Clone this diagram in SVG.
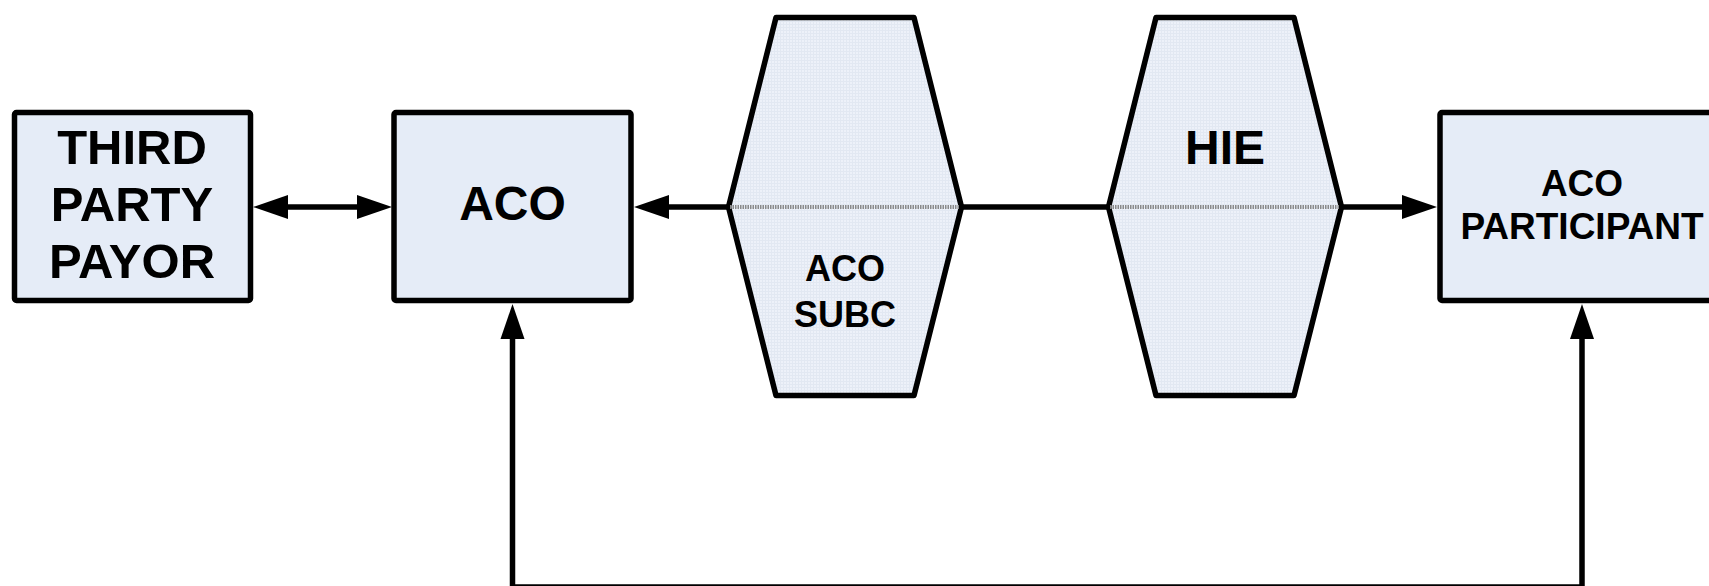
<svg xmlns="http://www.w3.org/2000/svg" width="1709" height="586" viewBox="0 0 1709 586">
  <style>
    .box { fill: #E5ECF7; stroke: #000; stroke-width: 5.5; stroke-linejoin: round; }
    .hex { fill: url(#grid); stroke: #000; stroke-width: 5.5; stroke-linejoin: round; }
    .mid { stroke: #8A8A8A; stroke-width: 4; stroke-dasharray: 1.5 1; fill: none; }
    .conn { stroke: #000; stroke-width: 5.5; fill: none; stroke-linejoin: miter; }
    .lbl { font-family: "Liberation Sans", Arial, sans-serif; font-weight: bold; fill: #000; text-anchor: middle; }
  </style>
  <defs>
    <pattern id="grid" patternUnits="userSpaceOnUse" width="3" height="3">
      <rect width="3" height="3" fill="#EDF1F9"/>
      <path d="M0 0.5H3M0.5 0V3" stroke="#E2E8F2" stroke-width="1"/>
    </pattern>
    <marker id="arr" markerUnits="userSpaceOnUse" markerWidth="36" markerHeight="24" refX="0" refY="12" orient="auto-start-reverse" overflow="visible">
      <path d="M0,0 L35,12 L0,24 Z" fill="#000"/>
    </marker>
  </defs>

  <g id="connectors">
    <path class="conn" d="M288,207 H357" marker-start="url(#arr)" marker-end="url(#arr)"/>
    <path class="conn" d="M728.5,207 H669" marker-end="url(#arr)"/>
    <path class="conn" d="M961.5,207 H1108.5"/>
    <path class="conn" d="M1341.5,207 H1402" marker-end="url(#arr)"/>
    <path class="conn" d="M512.5,339 V587 H1582 V339" marker-start="url(#arr)" marker-end="url(#arr)"/>
  </g>

  <g id="third-party-payor">
    <rect class="box" x="14.5" y="112.5" width="236" height="188" rx="2"/>
    <text class="lbl" font-size="49" x="132" y="164">THIRD</text>
    <text class="lbl" font-size="49" x="132" y="221">PARTY</text>
    <text class="lbl" font-size="49" x="132" y="278">PAYOR</text>
  </g>

  <g id="aco">
    <rect class="box" x="394" y="112.5" width="237" height="188" rx="2"/>
    <text class="lbl" font-size="48" x="512.5" y="220">ACO</text>
  </g>

  <g id="aco-subc">
    <polygon class="hex" points="728.5,207 776,17.5 914,17.5 961.5,207 914,395.5 776,395.5"/>
    <line class="mid" x1="730" y1="207" x2="960" y2="207"/>
    <text class="lbl" font-size="36" x="845" y="281">ACO</text>
    <text class="lbl" font-size="36" x="845" y="327">SUBC</text>
  </g>

  <g id="hie">
    <polygon class="hex" points="1108.5,207 1156,17.5 1294,17.5 1341.5,207 1294,395.5 1156,395.5"/>
    <line class="mid" x1="1110" y1="207" x2="1340" y2="207"/>
    <text class="lbl" font-size="48" x="1225" y="164">HIE</text>
  </g>

  <g id="aco-participant">
    <rect class="box" x="1440" y="112.5" width="300" height="188" rx="2"/>
    <text class="lbl" font-size="37" x="1582" y="196">ACO</text>
    <text class="lbl" font-size="37" x="1582" y="239">PARTICIPANT</text>
  </g>
</svg>
